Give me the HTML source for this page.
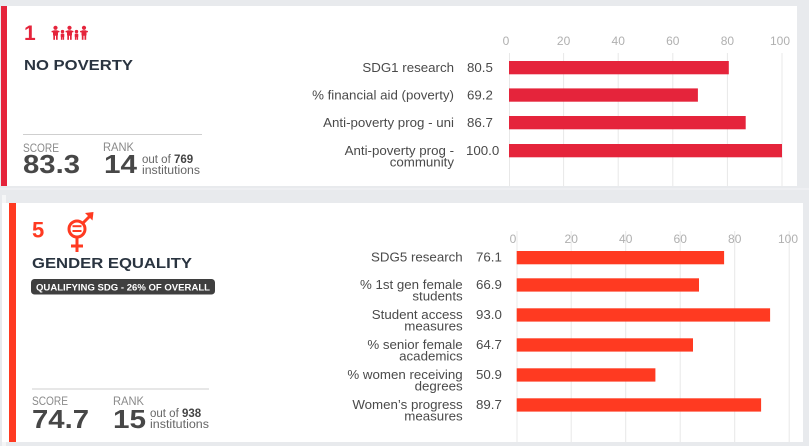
<!DOCTYPE html>
<html>
<head>
<meta charset="utf-8">
<style>
html,body{margin:0;padding:0;background:#e8eaed;}
svg{display:block;}
text{font-family:"Liberation Sans",sans-serif;}
</style>
</head>
<body>
<svg width="809" height="446" viewBox="0 0 809 446" xmlns="http://www.w3.org/2000/svg">
  <rect x="0" y="0" width="809" height="446" fill="#e8eaed"/>

  <!-- ========== TOP CARD ========== -->
  <rect x="1" y="6" width="796" height="180" fill="#ffffff"/>
  <rect x="1" y="6" width="6" height="180" fill="#e5243b"/>

  <!-- number + icon -->
  <text x="24" y="40" font-size="21" font-weight="bold" fill="#e5243b">1</text>
  <g fill="#e5243b">
    <!-- tall figure 1 -->
    <circle cx="55.5" cy="27.8" r="2.1"/>
    <rect x="53" y="30.3" width="5" height="5.5" rx="1"/>
    <rect x="51.5" y="30.8" width="8" height="1.6" rx="0.8"/>
    <rect x="53.3" y="35" width="1.7" height="4.8"/><rect x="56" y="35" width="1.7" height="4.8"/>
    <!-- small 1 -->
    <circle cx="62.5" cy="31.6" r="1.7"/>
    <rect x="60.7" y="33.6" width="3.6" height="3.6" rx="0.8"/>
    <rect x="60.9" y="36.8" width="1.4" height="3"/><rect x="62.7" y="36.8" width="1.4" height="3"/>
    <!-- tall figure 2 -->
    <circle cx="69.5" cy="27.8" r="2.1"/>
    <rect x="67" y="30.3" width="5" height="5.5" rx="1"/>
    <rect x="65.5" y="30.8" width="8" height="1.6" rx="0.8"/>
    <rect x="67.3" y="35" width="1.7" height="4.8"/><rect x="70" y="35" width="1.7" height="4.8"/>
    <!-- small 2 -->
    <circle cx="76.5" cy="31.6" r="1.7"/>
    <rect x="74.7" y="33.6" width="3.6" height="3.6" rx="0.8"/>
    <rect x="74.9" y="36.8" width="1.4" height="3"/><rect x="76.7" y="36.8" width="1.4" height="3"/>
    <!-- tall figure 3 -->
    <circle cx="84" cy="27.8" r="2.1"/>
    <rect x="81.5" y="30.3" width="5" height="5.5" rx="1"/>
    <rect x="80" y="30.8" width="8" height="1.6" rx="0.8"/>
    <rect x="81.8" y="35" width="1.7" height="4.8"/><rect x="84.5" y="35" width="1.7" height="4.8"/>
  </g>
  <text x="24" y="70" font-size="15" font-weight="bold" fill="#2a3440" textLength="109" lengthAdjust="spacingAndGlyphs">NO POVERTY</text>

  <line x1="23" y1="134.5" x2="202" y2="134.5" stroke="#cfcfcf" stroke-width="1"/>
  <text x="23" y="152" font-size="11.5" fill="#8a8a8a" textLength="36" lengthAdjust="spacingAndGlyphs">SCORE</text>
  <text x="23" y="173" font-size="26" font-weight="bold" fill="#474747" textLength="57" lengthAdjust="spacingAndGlyphs">83.3</text>
  <text x="103" y="151" font-size="11.5" fill="#8a8a8a" textLength="31" lengthAdjust="spacingAndGlyphs">RANK</text>
  <text x="104" y="173" font-size="26" font-weight="bold" fill="#474747" textLength="33" lengthAdjust="spacingAndGlyphs">14</text>
  <text x="142" y="163" font-size="11.5" fill="#666"><tspan>out of </tspan><tspan font-weight="bold" fill="#444">769</tspan></text>
  <text x="142" y="174" font-size="11.5" fill="#666" textLength="58" lengthAdjust="spacingAndGlyphs">institutions</text>

  <!-- top chart grid -->
  <g stroke="#e8e8e8" stroke-width="1">
    <line x1="509.5" y1="53" x2="509.5" y2="186"/>
    <line x1="563.6" y1="53" x2="563.6" y2="186"/>
    <line x1="618.2" y1="53" x2="618.2" y2="186"/>
    <line x1="672.8" y1="53" x2="672.8" y2="186"/>
    <line x1="727.4" y1="53" x2="727.4" y2="186"/>
    <line x1="782" y1="53" x2="782" y2="186"/>
  </g>
  <g font-size="12" fill="#b0b0b0" text-anchor="middle">
    <text x="506" y="45">0</text>
    <text x="563.6" y="45">20</text>
    <text x="618.2" y="45">40</text>
    <text x="672.8" y="45">60</text>
    <text x="727.4" y="45">80</text>
    <text x="780" y="45">100</text>
  </g>
  <g fill="#e5243b">
    <rect x="509" y="61" width="219.8" height="13.3"/>
    <rect x="509" y="88.4" width="188.9" height="13.3"/>
    <rect x="509" y="116" width="236.7" height="13.3"/>
    <rect x="509" y="144" width="273" height="13.3"/>
  </g>
  <g font-size="13.3" fill="#4a4a4a" text-anchor="end">
    <text x="454" y="72">SDG1 research</text>
    <text x="454" y="99.4">% financial aid (poverty)</text>
    <text x="454" y="127">Anti-poverty prog - uni</text>
    <text x="454" y="155">Anti-poverty prog -</text>
    <text x="454" y="166.3">community</text>
  </g>
  <g font-size="13.3" fill="#4a4a4a">
    <text x="467" y="72">80.5</text>
    <text x="467" y="99.4">69.2</text>
    <text x="467" y="127">86.7</text>
    <text x="466" y="155">100.0</text>
  </g>

  <!-- separator light line -->
  <rect x="0" y="188.5" width="809" height="1" fill="#f3f4f6"/>

  <!-- ========== BOTTOM CARD ========== -->
  <rect x="2" y="195" width="4" height="251" fill="#f5f6f7"/>
  <rect x="2" y="203" width="801" height="239" fill="#ffffff"/>
  <rect x="9" y="203" width="7" height="239" fill="#ff3a21"/>

  <text x="32" y="237.5" font-size="22" font-weight="bold" fill="#ff3a21">5</text>
  <g stroke="#ff3a21" fill="none" stroke-width="3">
    <circle cx="77" cy="229" r="8"/>
    <line x1="82.5" y1="223.5" x2="91" y2="215"/>
    <line x1="77" y1="237" x2="77" y2="252"/>
    <line x1="71" y1="246" x2="83" y2="246"/>
  </g>
  <polygon points="85,213 93.5,212 92.5,220.5" fill="#ff3a21"/>
  <g fill="#ff3a21">
    <rect x="72.5" y="225.2" width="9" height="2"/>
    <rect x="72.5" y="230" width="9" height="2"/>
  </g>
  <text x="32" y="268" font-size="15" font-weight="bold" fill="#2a3440" textLength="160" lengthAdjust="spacingAndGlyphs">GENDER EQUALITY</text>

  <rect x="31" y="279" width="184" height="15.5" rx="3.5" fill="#3f3f3f"/>
  <text x="36" y="290.5" font-size="9.5" font-weight="bold" fill="#ffffff" textLength="174" lengthAdjust="spacingAndGlyphs">QUALIFYING SDG - 26% OF OVERALL</text>

  <line x1="32" y1="389" x2="209" y2="389" stroke="#cfcfcf" stroke-width="1"/>
  <text x="32" y="405" font-size="11.5" fill="#8a8a8a" textLength="36" lengthAdjust="spacingAndGlyphs">SCORE</text>
  <text x="32" y="428" font-size="26" font-weight="bold" fill="#474747" textLength="57" lengthAdjust="spacingAndGlyphs">74.7</text>
  <text x="113" y="405" font-size="11.5" fill="#8a8a8a" textLength="31" lengthAdjust="spacingAndGlyphs">RANK</text>
  <text x="113" y="428" font-size="26" font-weight="bold" fill="#474747" textLength="33" lengthAdjust="spacingAndGlyphs">15</text>
  <text x="150" y="417" font-size="11.5" fill="#666"><tspan>out of </tspan><tspan font-weight="bold" fill="#444">938</tspan></text>
  <text x="150" y="428" font-size="11.5" fill="#666" textLength="59" lengthAdjust="spacingAndGlyphs">institutions</text>

  <!-- bottom chart grid -->
  <g stroke="#e8e8e8" stroke-width="1">
    <line x1="517" y1="231" x2="517" y2="442"/>
    <line x1="571.2" y1="231" x2="571.2" y2="442"/>
    <line x1="625.7" y1="231" x2="625.7" y2="442"/>
    <line x1="680.2" y1="231" x2="680.2" y2="442"/>
    <line x1="734.7" y1="231" x2="734.7" y2="442"/>
    <line x1="789.2" y1="231" x2="789.2" y2="442"/>
  </g>
  <g font-size="12" fill="#b0b0b0" text-anchor="middle">
    <text x="513" y="243">0</text>
    <text x="571.2" y="243">20</text>
    <text x="625.7" y="243">40</text>
    <text x="680.2" y="243">60</text>
    <text x="734.7" y="243">80</text>
    <text x="788" y="243">100</text>
  </g>
  <g fill="#ff3a21">
    <rect x="516.7" y="251" width="207.4" height="13.3"/>
    <rect x="516.7" y="278.3" width="182.3" height="13.3"/>
    <rect x="516.7" y="308.3" width="253.4" height="13.3"/>
    <rect x="516.7" y="338.3" width="176.3" height="13.3"/>
    <rect x="516.7" y="368.3" width="138.7" height="13.3"/>
    <rect x="516.7" y="398.3" width="244.4" height="13.3"/>
  </g>
  <g font-size="13.3" fill="#4a4a4a" text-anchor="end">
    <text x="462.7" y="261.7">SDG5 research</text>
    <text x="462.7" y="289">% 1st gen female</text>
    <text x="462.7" y="300.5">students</text>
    <text x="462.7" y="319">Student access</text>
    <text x="462.7" y="330.5">measures</text>
    <text x="462.7" y="349">% senior female</text>
    <text x="462.7" y="360.5">academics</text>
    <text x="462.7" y="379">% women receiving</text>
    <text x="462.7" y="390.5">degrees</text>
    <text x="462.7" y="409">Women’s progress</text>
    <text x="462.7" y="420.5">measures</text>
  </g>
  <g font-size="13.3" fill="#4a4a4a">
    <text x="476" y="261.7">76.1</text>
    <text x="476" y="289">66.9</text>
    <text x="476" y="319">93.0</text>
    <text x="476" y="349">64.7</text>
    <text x="476" y="379">50.9</text>
    <text x="476" y="409">89.7</text>
  </g>
</svg>
</body>
</html>
